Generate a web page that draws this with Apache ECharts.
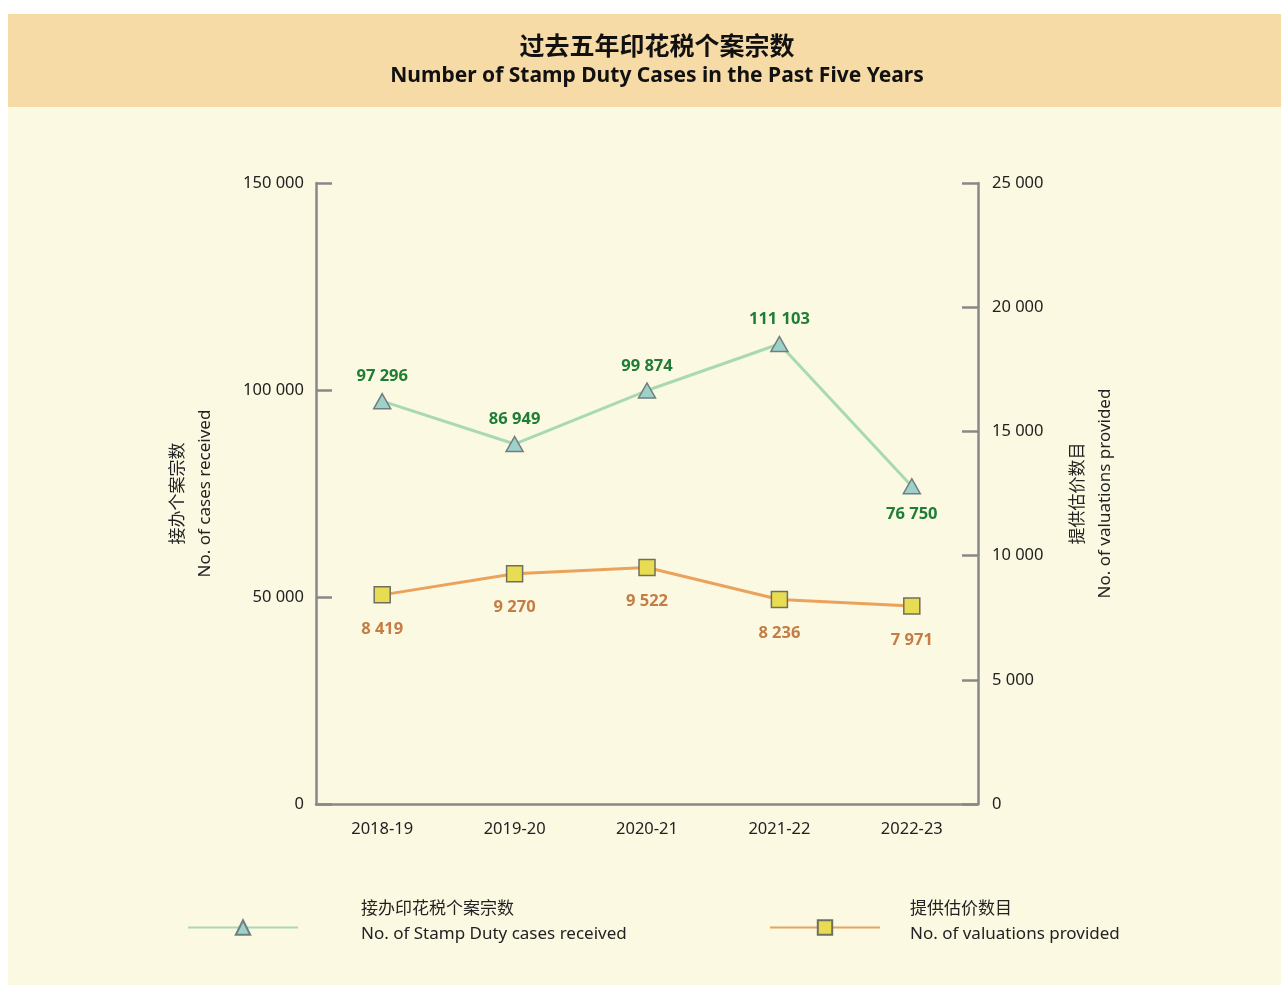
<!DOCTYPE html>
<html>
<head>
<meta charset="utf-8">
<script src="https://cdn.jsdelivr.net/npm/echarts@6/dist/echarts.min.js"></script>
<style>
  html, body { margin: 0; padding: 0; background: #ffffff; }
  #container { width: 1281px; height: 985px; }
</style>
</head>
<body>
<div id="container"></div>
<script>
var years       = ['2018-19', '2019-20', '2020-21', '2021-22', '2022-23'];
var casesValues = [97296, 86949, 99874, 111103, 76750];
var valuations  = [8419, 9270, 9522, 8236, 7971];
var leftTicks   = [0, 150000, 50000];   // min, max, interval
var rightTicks  = [0, 25000, 5000];

var casesName = '接办印花税个案宗数\nNo. of Stamp Duty cases received';
var valsName  = '提供估价数目\nNo. of valuations provided';

var FONT = '"Noto Sans", "Noto Sans CJK SC", sans-serif';

function fmt(v) {
    return String(v).replace(/\B(?=(\d{3})+(?!\d))/g, ' ');
}

// extra short line under the legend text so the text sits above the icon
function legendText(name) {
    return name + '\n{g| }';
}

var dom     = document.getElementById('container');
var myChart = echarts.init(dom);

var legendTextStyle = {
    fontSize: 17,
    color: '#222',
    lineHeight: 25,
    rich: { g: { fontSize: 2, lineHeight: 11 } }
};

var option = {
    animation: false,
    backgroundColor: '#ffffff',
    textStyle: { fontFamily: FONT },
    graphic: [
        // body
        { type: 'rect', z: -10, shape: { x: 8, y: 107, width: 1273, height: 878 }, style: { fill: '#fcf9e2' } },
        // header band
        { type: 'rect', z: -10, shape: { x: 8, y: 14, width: 1273, height: 93 }, style: { fill: '#f6dba6' } }
    ],
    title: {
        text: '{cn|过去五年印花税个案宗数}\n{en|Number of Stamp Duty Cases in the Past Five Years}',
        left: 652,
        textAlign: 'center',
        top: 28,
        textStyle: {
            rich: {
                cn: { fontFamily: FONT, fontSize: 25, fontWeight: 'bold', color: '#111', lineHeight: 29 },
                en: { fontFamily: FONT, fontSize: 21, fontWeight: 'bold', color: '#111', lineHeight: 29 }
            }
        }
    },
    legend: [
        {
            left: 182,
            top: 892,
            itemWidth: 110,
            itemHeight: 18,
            data: [casesName],
            formatter: legendText,
            textStyle: Object.assign({ padding: [0, 0, 0, 58] }, legendTextStyle)
        },
        {
            left: 764,
            top: 892,
            itemWidth: 110,
            itemHeight: 18,
            data: [valsName],
            formatter: legendText,
            textStyle: Object.assign({ padding: [0, 0, 0, 25] }, legendTextStyle)
        }
    ],
    grid: {
        left: 316,
        right: 303,
        top: 183,
        bottom: 181,
        containLabel: false
    },
    xAxis: {
        type: 'category',
        data: years,
        boundaryGap: true,
        axisLine: { lineStyle: { color: '#888', width: 2.5 } },
        axisTick: { inside: true, length: 15, lineStyle: { color: '#888', width: 2.5 } },
        axisLabel: { fontSize: 16.5, color: '#222', margin: 17 }
    },
    yAxis: [
        {
            type: 'value',
            position: 'left',
            min: leftTicks[0],
            max: leftTicks[1],
            interval: leftTicks[2],
            name: '接办个案宗数\nNo. of cases received',
            nameLocation: 'middle',
            nameRotate: 90,
            nameGap: 97,
            nameTextStyle: { fontSize: 17, color: '#222', lineHeight: 27 },
            axisLine: { show: true, lineStyle: { color: '#888', width: 2.5 } },
            axisTick: { show: true, inside: true, length: 16, lineStyle: { color: '#888', width: 2.5 } },
            axisLabel: { fontSize: 16.5, color: '#222', margin: 12, formatter: fmt },
            splitLine: { show: false }
        },
        {
            type: 'value',
            position: 'right',
            min: rightTicks[0],
            max: rightTicks[1],
            interval: rightTicks[2],
            name: '提供估价数目\nNo. of valuations provided',
            nameLocation: 'middle',
            nameRotate: 90,
            nameGap: 87,
            nameTextStyle: { fontSize: 17, color: '#222', lineHeight: 27 },
            axisLine: { show: true, lineStyle: { color: '#888', width: 2.5 } },
            axisTick: { show: true, inside: true, length: 16, lineStyle: { color: '#888', width: 2.5 } },
            axisLabel: { fontSize: 16.5, color: '#222', margin: 14, formatter: fmt },
            splitLine: { show: false }
        }
    ],
    series: [
        {
            name: casesName,
            type: 'line',
            yAxisIndex: 0,
            data: casesValues.map(function (v, i) {
                // last green label sits below its point
                if (i === casesValues.length - 1) {
                    return { value: v, label: { position: 'bottom', distance: 12 } };
                }
                return v;
            }),
            symbol: 'triangle',
            symbolSize: [17, 15],
            lineStyle: { color: '#a9d9b3', width: 3 },
            itemStyle: { color: '#9fd1cb', borderColor: '#6f7f7f', borderWidth: 1.5 },
            label: {
                show: true,
                position: 'top',
                distance: 8,
                fontSize: 16.5,
                fontWeight: 'bold',
                color: '#1f7d36',
                formatter: function (p) { return fmt(p.value); }
            },
            emphasis: { disabled: true }
        },
        {
            name: valsName,
            type: 'line',
            yAxisIndex: 1,
            data: valuations,
            symbol: 'rect',
            symbolSize: 16,
            lineStyle: { color: '#eaa25c', width: 3 },
            itemStyle: { color: '#e8dd52', borderColor: '#6f6f60', borderWidth: 1.5 },
            label: {
                show: true,
                position: 'bottom',
                distance: 17,
                fontSize: 16.5,
                fontWeight: 'bold',
                color: '#c47d44',
                formatter: function (p) { return fmt(p.value); }
            },
            emphasis: { disabled: true }
        }
    ]
};

myChart.setOption(option);
</script>
</body>
</html>
